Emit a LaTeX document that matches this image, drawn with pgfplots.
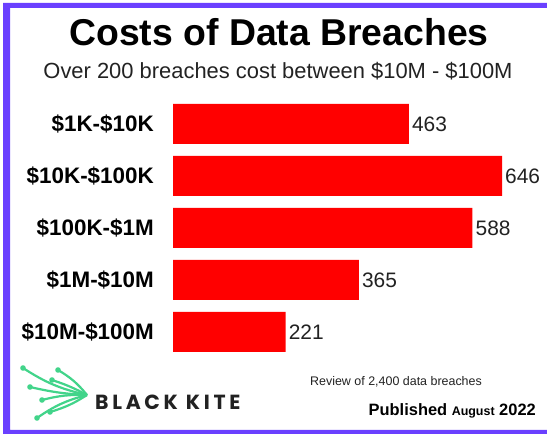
\documentclass[border=0pt]{standalone}
\usepackage{fontspec}
\setmainfont{Liberation Sans}
\newfontfamily\kitefont[LetterSpace=18]{Poppins}
\usepackage{pgfplots}
\pgfplotsset{compat=1.18}
\definecolor{frame}{RGB}{106,64,255}
\definecolor{barred}{RGB}{255,0,0}
\definecolor{kite}{RGB}{66,212,138}
\definecolor{ink}{RGB}{34,34,34}
\begin{document}
\begin{tikzpicture}[x=1bp,y=1bp]
\useasboundingbox (0,0) rectangle (547,434);
\fill[white] (0,0) rectangle (547,434);
% frame, open on the right
\fill[frame, even odd rule] (3,0) rectangle (547,431) (10,4) rectangle (547,426);

% titles
\node[anchor=base, inner sep=0pt] at (279,388)
  {\fontsize{37.5}{40}\selectfont\bfseries Costs of Data Breaches};
\node[anchor=base, inner sep=0pt, text=ink] at (278,355)
  {\fontsize{22}{24}\selectfont Over 200 breaches cost between \$10M - \$100M};

\begin{axis}[
  at={(173bp,76bp)}, anchor=south west,
  width=329bp, height=260bp, scale only axis,
  xbar, bar width=40bp,
  xmin=0, xmax=646,
  ymin=-0.5, ymax=4.5, y dir=reverse,
  axis line style={draw=none},
  major tick length=0pt,
  xtick=\empty,
  ytick={0,1,2,3,4},
  yticklabels={\$1K-\$10K, \$10K-\$100K, \$100K-\$1M\hspace{6bp}, \$1M-\$10M, \$10M-\$100M},
  yticklabel style={font=\fontsize{22.5}{24}\selectfont\bfseries, anchor=east, inner sep=0pt, xshift=-19bp},
  /pgf/number format/assume math mode=true,
  nodes near coords,
  nodes near coords style={font=\fontsize{21}{23}\selectfont, text=ink, anchor=west, inner sep=3bp},
  point meta=x,
  clip=false,
]
\addplot[fill=barred, draw=none] coordinates {(463,0) (646,1) (588,2) (365,3) (221,4)};
\end{axis}

% logo
\begin{scope}[kite, line width=2.2bp]
  \foreach \p/\b in {{(23,66)}/-10, {(58,64)}/10, {(52,54)}/5, {(30,47)}/-5, {(42,34)}/8, {(50,22)}/-8, {(37,16)}/10} {
    \draw \p to[bend left=\b] (87,39);
    \fill \p circle (2.8bp);
  }
\end{scope}
\node[anchor=west, inner sep=0pt, text=ink] at (95,32)
  {\kitefont\bfseries\fontsize{20.5}{22}\selectfont BLACK KITE};

% footer
\node[anchor=base, inner sep=0pt, text=ink] at (396,48)
  {\fontsize{12.5}{14}\selectfont Review of 2,400 data breaches};
\node[anchor=base east, inner sep=0pt] at (536,18)
  {\fontsize{16.5}{18}\selectfont\bfseries Published {\fontsize{12.5}{14}\selectfont August} 2022};
\end{tikzpicture}
\end{document}
